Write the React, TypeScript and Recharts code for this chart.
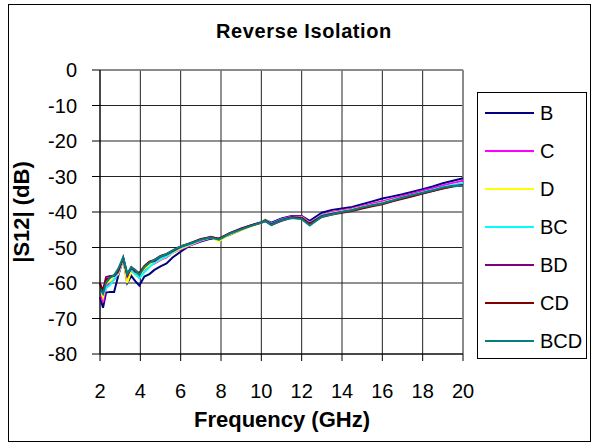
import { LineChart, Line, XAxis, YAxis, CartesianGrid, ReferenceLine } from "recharts";

// frequency points (GHz)
const FREQ = [2.0, 2.15, 2.3, 2.5, 2.7, 2.9, 3.15, 3.35, 3.55, 3.75, 3.95, 4.2, 4.45, 4.7, 5.0, 5.3, 5.6, 6.0, 6.5, 7.0, 7.5, 7.9, 8.4, 9.0, 9.5, 10.0, 10.2, 10.5, 11.0, 11.5, 12.0, 12.4, 13.0, 13.5, 14.0, 14.5, 15.0, 15.5, 16.0, 16.5, 17.0, 17.5, 18.0, 18.5, 19.0, 19.5, 20.0];

// |S12| in dB per bias state
const B = [-64, -67, -62.7, -62.5, -62.5, -58, -53, -60, -58, -59.5, -60.7, -58.2, -57.5, -56.3, -55.3, -54.5, -52.8, -51.2, -49.3, -48.3, -47.5, -47.6, -46.5, -45, -43.8, -43, -42.2, -43, -41.8, -41.1, -41.1, -42.5, -40.2, -39.4, -39, -38.6, -37.8, -37, -36.2, -35.6, -35, -34.3, -33.6, -32.8, -31.9, -31.2, -30.5];
const C = [-62, -65.5, -61, -60, -59, -57.5, -53.3, -58.5, -56.5, -57.5, -58.5, -56.5, -55, -54.5, -53.5, -52.8, -51.5, -50.5, -49.3, -48.2, -47.3, -47.6, -46.3, -44.8, -43.8, -43, -42.3, -43.3, -42, -41.3, -41.3, -43, -40.8, -40, -39.5, -39, -38.3, -37.6, -37, -36.2, -35.5, -34.8, -34, -33.3, -32.5, -31.8, -31.2];
const D = [-61.5, -64, -60, -59.5, -58.5, -57.5, -53, -60, -56.5, -57.8, -58.5, -56, -55, -54.3, -53.3, -52.6, -51.5, -50.3, -49.2, -48, -47.2, -48.2, -46.4, -45, -44, -43, -42, -43.5, -42.3, -41.5, -41.5, -43.2, -41, -40.3, -39.8, -39.3, -38.6, -38, -37.4, -36.6, -35.9, -35.2, -34.5, -33.8, -33.1, -32.5, -32.2];
const BC = [-62.5, -63, -61.5, -60.5, -59, -57, -53.2, -57, -56.5, -57.5, -58.6, -57, -55.5, -54.3, -53.2, -52.5, -51.3, -50, -49, -47.9, -47.1, -47.7, -46.1, -44.7, -43.8, -42.9, -42.2, -43.3, -42.1, -41.4, -41.6, -43.2, -41, -40.4, -39.9, -39.4, -38.7, -38.1, -37.5, -36.7, -36, -35.3, -34.5, -33.8, -33, -32.4, -31.9];
const BD = [-60.5, -62, -58.3, -58, -58, -56.8, -52.8, -58, -55.8, -56.8, -57.5, -55.5, -54.2, -53.8, -52.6, -52, -51, -49.8, -48.8, -47.7, -47, -47.6, -46, -44.6, -43.7, -42.9, -42.3, -43.4, -42.2, -41.4, -41.6, -43.3, -41.1, -40.5, -40, -39.5, -38.8, -38.2, -37.6, -36.9, -36.1, -35.4, -34.7, -34, -33.3, -32.7, -32.4];
const CD = [-60, -62.5, -59, -58.5, -57.8, -56.5, -53, -57.5, -55.5, -56.5, -57.2, -55.2, -54, -53.5, -52.4, -51.8, -50.9, -49.7, -48.7, -47.6, -47.1, -47.5, -46.1, -44.8, -43.8, -43, -42.6, -43.6, -42.5, -41.6, -41.8, -43.4, -41.4, -40.7, -40.2, -39.7, -39, -38.4, -37.8, -37, -36.3, -35.6, -34.8, -34.1, -33.4, -32.8, -32.5];
const BCD = [-61.5, -63, -60, -58.5, -57.8, -56, -52.8, -57.5, -55.6, -56.3, -57.8, -55.5, -54.3, -53.5, -52.5, -51.9, -50.8, -49.7, -48.8, -47.8, -47.2, -47.8, -46.2, -44.9, -43.9, -43, -42.6, -43.7, -42.3, -41.7, -42, -43.8, -41.3, -40.7, -40, -39.5, -38.7, -38.1, -37.6, -36.8, -35.9, -35.2, -34.6, -33.9, -33.1, -32.7, -32.7];

const X_TICKS = [2, 4, 6, 8, 10, 12, 14, 16, 18, 20];
const Y_TICKS = [-80, -70, -60, -50, -40, -30, -20, -10, 0];

const SERIES = [
  { key: "B", values: B, color: "#000080" },
  { key: "C", values: C, color: "#FF00FF" },
  { key: "D", values: D, color: "#FFFF00" },
  { key: "BC", values: BC, color: "#00FFFF" },
  { key: "BD", values: BD, color: "#800080" },
  { key: "CD", values: CD, color: "#800000" },
  { key: "BCD", values: BCD, color: "#008080" },
];

const data = FREQ.map((f, i) => {
  const row: Record<string, number> = { f };
  SERIES.forEach((s) => (row[s.key] = s.values[i]));
  return row;
});

const FONT = "Arial, 'Liberation Sans', sans-serif";
const tickStyle = { fontSize: 20, fill: "#000", fontFamily: FONT };

export default function App() {
  return (
    <div style={{ position: "absolute", left: 0, top: 0, width: 592, height: 443, background: "#fff", fontFamily: FONT }}>
      <div style={{ position: "absolute", left: 8, top: 4, width: 581, height: 436, border: "1px solid #000" }} />
      <div style={{ position: "absolute", left: 0, width: 608, top: 20, textAlign: "center", fontSize: 20, fontWeight: "bold", letterSpacing: 0.6 }}>
        Reverse Isolation
      </div>
      <LineChart
        width={592}
        height={443}
        data={data}
        margin={{ top: 70, right: 129, left: 40, bottom: 49 }}
        style={{ position: "absolute", left: 0, top: 0 }}
      >
        <CartesianGrid stroke="#222" strokeWidth={1} />
        <XAxis
          dataKey="f"
          type="number"
          domain={[2, 20]}
          ticks={X_TICKS}
          height={40}
          tick={tickStyle}
          tickSize={7}
          tickMargin={23}
          stroke="#000"
          interval={0}
        />
        <YAxis
          type="number"
          domain={[-80, 0]}
          ticks={Y_TICKS}
          width={60}
          tick={tickStyle}
          tickSize={8}
          tickMargin={15}
          stroke="#000"
          interval={0}
        />
        <ReferenceLine y={0} stroke="#888" strokeWidth={1.5} />
        <ReferenceLine x={20} stroke="#888" strokeWidth={1.5} />
        {SERIES.map((s) => (
          <Line key={s.key} dataKey={s.key} type="linear" stroke={s.color} strokeWidth={2} dot={false} isAnimationActive={false} />
        ))}
      </LineChart>
      <div
        style={{
          position: "absolute",
          left: 22,
          top: 212,
          transform: "translate(-50%, -50%) rotate(-90deg)",
          fontSize: 22,
          fontWeight: "bold",
          whiteSpace: "nowrap",
        }}
      >
        |S12| (dB)
      </div>
      <div style={{ position: "absolute", left: 162, width: 240, top: 407, textAlign: "center", fontSize: 22, fontWeight: "bold" }}>
        Frequency (GHz)
      </div>
      <div style={{ position: "absolute", left: 477, top: 92, width: 108, height: 264, border: "1px solid #000", paddingTop: 1 }}>
        {SERIES.map((s) => (
          <div key={s.key} style={{ height: 38, display: "flex", alignItems: "center" }}>
            <div style={{ marginLeft: 7, width: 49, height: 2, background: s.color }} />
            <span style={{ marginLeft: 6, fontSize: 20 }}>{s.key}</span>
          </div>
        ))}
      </div>
    </div>
  );
}
